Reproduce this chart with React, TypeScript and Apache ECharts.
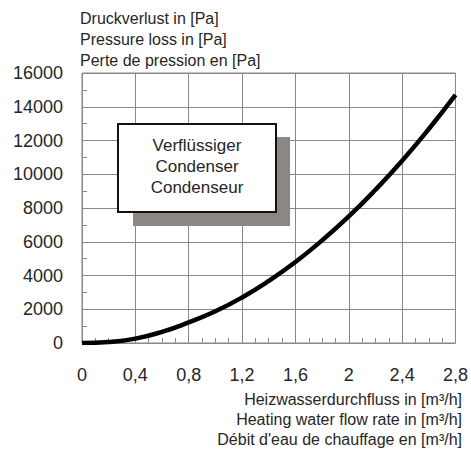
import React, { useEffect, useRef } from "react";
import * as echarts from "echarts";

const flowRates = [0, 0.2, 0.4, 0.6, 0.8, 1.0, 1.2, 1.4, 1.6, 1.8, 2.0, 2.2, 2.4, 2.6, 2.8];
const pressureLoss = [0, 60, 260, 660, 1220, 1880, 2700, 3680, 4800, 6080, 7500, 9080, 10800, 12680, 14700];
const yTitleLines = ["Druckverlust in [Pa]", "Pressure loss in [Pa]", "Perte de pression en [Pa]"];
const xTitleLines = [
  "Heizwasserdurchfluss in [m³/h]",
  "Heating water flow rate in [m³/h]",
  "Débit d'eau de chauffage en [m³/h]",
];
const boxLines = ["Verflüssiger", "Condenser", "Condenseur"];

const FONT = "'Liberation Sans', Arial, sans-serif";
const TXT = "#262626";

export default function App() {
  const ref = useRef<HTMLDivElement>(null);
  useEffect(() => {
    document.body.style.margin = "0";
    const chart = echarts.init(ref.current!, null, { renderer: "svg" });
    const graphics: any[] = [];
    yTitleLines.forEach((t, i) => {
      graphics.push({
        type: "text",
        x: 80,
        y: 18 + i * 21,
        style: { text: t, font: `16px ${FONT}`, fill: TXT, verticalAlign: "middle" },
      });
    });
    xTitleLines.forEach((t, i) => {
      graphics.push({
        type: "text",
        x: 462,
        y: 399 + i * 20,
        style: { text: t, font: `16px ${FONT}`, fill: TXT, align: "right", verticalAlign: "middle" },
      });
    });
    graphics.push({
      type: "rect",
      shape: { x: 133, y: 137, width: 157, height: 89 },
      style: { fill: "#8c8782" },
      z: 10,
    });
    graphics.push({
      type: "rect",
      shape: { x: 118, y: 124, width: 158, height: 88 },
      style: { fill: "#fff", stroke: "#111", lineWidth: 2 },
      z: 11,
    });
    boxLines.forEach((t, i) => {
      graphics.push({
        type: "text",
        x: 197,
        y: 145 + i * 21,
        style: {
          text: t,
          font: `17px ${FONT}`,
          fill: TXT,
          align: "center",
          verticalAlign: "middle",
        },
        z: 12,
      });
    });

    chart.setOption({
      animation: false,
      backgroundColor: "#fff",
      grid: {
        left: 82,
        right: 15,
        top: 73,
        bottom: 107,
        show: true,
        borderColor: "#888",
        borderWidth: 1,
      },
      xAxis: {
        type: "value",
        min: 0,
        max: 2.8,
        interval: 0.4,
        axisLine: { show: false },
        axisTick: { show: false, inside: true },
        minorTick: { show: true, splitNumber: 4, length: 5, lineStyle: { color: "#888" } },
        splitLine: { show: true, lineStyle: { color: "#888", width: 1 } },
        axisLabel: {
          margin: 23,
          fontSize: 18,
          fontFamily: FONT,
          color: TXT,
          formatter: (v: number) => String(Math.round(v * 10) / 10).replace(".", ","),
        },
      },
      yAxis: {
        type: "value",
        min: 0,
        max: 16000,
        interval: 2000,
        axisLine: { show: false },
        axisTick: { show: false, inside: true },
        minorTick: { show: true, splitNumber: 2, length: 5, lineStyle: { color: "#888" } },
        splitLine: { show: true, lineStyle: { color: "#888", width: 1 } },
        axisLabel: {
          margin: 19,
          fontSize: 18,
          fontFamily: FONT,
          color: TXT,
          formatter: (v: number) => String(v),
        },
      },
      series: [
        {
          type: "line",
          data: flowRates.map((x, i) => [x, pressureLoss[i]]),
          smooth: true,
          showSymbol: false,
          lineStyle: { color: "#000", width: 4.5 },
          z: 5,
        },
      ],
      graphic: graphics,
    });
    return () => chart.dispose();
  }, []);
  return <div ref={ref} style={{ width: 471, height: 450 }} />;
}
